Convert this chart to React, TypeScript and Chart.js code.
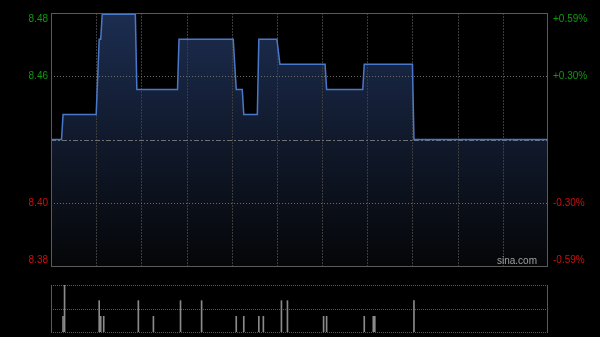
import React, { useEffect, useRef } from "react";
import { Chart, registerables } from "chart.js";
Chart.register(...registerables);

// ---- data ----
const prevClose = 8.43;
const totalMinutes = 330;
const gridStepMinutes = 30;
const priceMinutes = [0, 7, 8, 30, 32, 33, 34, 56, 57, 84, 85, 121, 123, 127, 128, 137, 138, 150, 152, 182, 183, 207, 208, 240, 241, 330];
const prices = [8.43, 8.43, 8.44, 8.44, 8.47, 8.47, 8.48, 8.48, 8.45, 8.45, 8.47, 8.47, 8.45, 8.45, 8.44, 8.44, 8.47, 8.47, 8.46, 8.46, 8.45, 8.45, 8.46, 8.46, 8.43, 8.43];
const volMinutes = [8, 9, 32, 33, 35, 58, 68, 86, 100, 123, 128, 138, 141, 153, 157, 181, 183, 208, 214, 215, 241];
const volumes = [1000, 3000, 2000, 1000, 1000, 2000, 1000, 2000, 2000, 1000, 1000, 1000, 1000, 2000, 2000, 1000, 1000, 1000, 1000, 1000, 2000];
const volumeMax = 3000;
const priceRange = 0.0505;
const leftLabels = ["8.48", "8.46", "8.40", "8.38"];
const rightLabels = ["+0.59%", "+0.30%", "-0.30%", "-0.59%"];
const watermark = "sina.com";

const GREEN = "#109a10";
const RED = "#cc1010";
const FONT = "10px 'Liberation Sans', Arial, sans-serif";

const hline = (ctx: CanvasRenderingContext2D, x1: number, x2: number, y: number) => {
  ctx.beginPath();
  ctx.moveTo(x1, y);
  ctx.lineTo(x2, y);
  ctx.stroke();
};
const vline = (ctx: CanvasRenderingContext2D, x: number, y1: number, y2: number) => {
  ctx.beginPath();
  ctx.moveTo(x, y1);
  ctx.lineTo(x, y2);
  ctx.stroke();
};

const priceGrid = {
  id: "priceGrid",
  afterDatasetDraw(chart: any, args: any) {
    if (args.index !== 1) return;
    const { ctx, chartArea: a, scales } = chart;
    const x = scales.x;
    const y = scales.y;
    ctx.save();
    ctx.lineWidth = 1;
    // vertical grid
    ctx.strokeStyle = "#3c3c3c";
    ctx.setLineDash([2, 1]);
    for (let m = gridStepMinutes; m < totalMinutes; m += gridStepMinutes) {
      const px = Math.round(x.getPixelForValue(m)) + 0.5;
      vline(ctx, px, a.top, a.bottom);
    }
    // quarter lines
    const span = y.max - y.min;
    ctx.strokeStyle = "#6a6a6a";
    ctx.setLineDash([1, 2]);
    [y.max - span / 4, y.min + span / 4].forEach((v) => {
      const py = Math.round(y.getPixelForValue(v)) + 0.5;
      hline(ctx, a.left, a.right, py);
    });
    // previous close
    ctx.strokeStyle = "#707070";
    ctx.setLineDash([5, 2, 2, 2]);
    const pc = Math.round(y.getPixelForValue(prevClose)) + 0.5;
    hline(ctx, a.left, a.right, pc);
    ctx.restore();
  },
  afterDraw(chart: any) {
    const { ctx, chartArea: a, scales } = chart;
    const y = scales.y;
    ctx.save();
    ctx.setLineDash([]);
    ctx.strokeStyle = "#5a5a5a";
    ctx.lineWidth = 1;
    ctx.strokeRect(a.left + 0.5, a.top + 0.5, a.right - a.left - 1, a.bottom - a.top);
    const span = y.max - y.min;
    const ys = [a.top + 6, y.getPixelForValue(y.max - span / 4), y.getPixelForValue(y.min + span / 4), a.bottom - 6];
    ctx.font = FONT;
    ctx.textBaseline = "middle";
    ys.forEach((py, i) => {
      ctx.fillStyle = i < 2 ? GREEN : RED;
      ctx.textAlign = "right";
      ctx.fillText(leftLabels[i], a.left - 3, py);
      ctx.textAlign = "left";
      ctx.fillText(rightLabels[i], a.right + 5, py);
    });
    ctx.fillStyle = "#a0a0a0";
    ctx.textAlign = "right";
    ctx.fillText(watermark, a.right - 11, a.bottom - 5);
    ctx.restore();
  },
};

const volumeGrid = {
  id: "volumeGrid",
  beforeDatasetsDraw(chart: any) {
    const { ctx, chartArea: a, scales } = chart;
    const y = scales.y;
    ctx.save();
    ctx.lineWidth = 1;
    ctx.strokeStyle = "#5a5a5a";
    ctx.setLineDash([1, 1]);
    [y.max, y.max / 2, 0].forEach((v) => {
      const py = Math.round(y.getPixelForValue(v)) + 0.5;
      hline(ctx, a.left, a.right, py);
    });
    ctx.setLineDash([]);
    vline(ctx, a.left + 0.5, a.top, a.bottom + 1);
    vline(ctx, a.right - 0.5, a.top, a.bottom + 1);
    ctx.restore();
  },
};

export default function App() {
  const priceRef = useRef<HTMLCanvasElement | null>(null);
  const volRef = useRef<HTMLCanvasElement | null>(null);

  useEffect(() => {
    const priceData = priceMinutes.map((m, i) => ({ x: m, y: prices[i] }));
    const priceChart = new Chart(priceRef.current as HTMLCanvasElement, {
      type: "line",
      data: {
        datasets: [
          {
            data: priceData,
            borderColor: "#4a78c8",
            borderWidth: 1.5,
            pointRadius: 0,
            fill: false,
            tension: 0,
            order: 0,
          },
          {
            data: priceData,
            borderWidth: 0,
            borderColor: "rgba(0,0,0,0)",
            pointRadius: 0,
            tension: 0,
            fill: "start",
            order: 1,
            backgroundColor: (c: any) => {
              const area = c.chart.chartArea;
              if (!area) return "rgba(20,35,65,1)";
              const g = c.chart.ctx.createLinearGradient(0, area.top, 0, area.bottom);
              g.addColorStop(0, "#1c2d50");
              g.addColorStop(1, "#050608");
              return g;
            },
          },
        ],
      },
      options: {
        responsive: false,
        animation: false,
        events: [],
        layout: { padding: { left: 51, right: 52, top: 13, bottom: 71 } },
        plugins: { legend: { display: false }, tooltip: { enabled: false } },
        scales: {
          x: { type: "linear", min: 0, max: totalMinutes, display: false },
          y: { type: "linear", min: prevClose - priceRange, max: prevClose + priceRange, display: false },
        },
      },
      plugins: [priceGrid],
    } as any);

    const volChart = new Chart(volRef.current as HTMLCanvasElement, {
      type: "bar",
      data: {
        datasets: [
          {
            data: volMinutes.map((m, i) => ({ x: m, y: volumes[i] })),
            backgroundColor: "#8a8a8a",
            barThickness: 1,
          },
        ],
      },
      options: {
        responsive: false,
        animation: false,
        events: [],
        layout: { padding: { left: 51, right: 52, top: 285, bottom: 5 } },
        plugins: { legend: { display: false }, tooltip: { enabled: false } },
        scales: {
          x: { type: "linear", offset: false, min: 0, max: totalMinutes, display: false },
          y: { type: "linear", min: 0, max: volumeMax, display: false },
        },
      },
      plugins: [volumeGrid],
    } as any);

    return () => {
      priceChart.destroy();
      volChart.destroy();
    };
  }, []);

  const canvasStyle: React.CSSProperties = { position: "absolute", left: 0, top: 0, width: 600, height: 337 };
  return (
    <div style={{ position: "absolute", left: 0, top: 0, width: 600, height: 337, background: "#000", overflow: "hidden" }}>
      <canvas ref={priceRef} width={600} height={337} style={canvasStyle} />
      <canvas ref={volRef} width={600} height={337} style={canvasStyle} />
    </div>
  );
}
